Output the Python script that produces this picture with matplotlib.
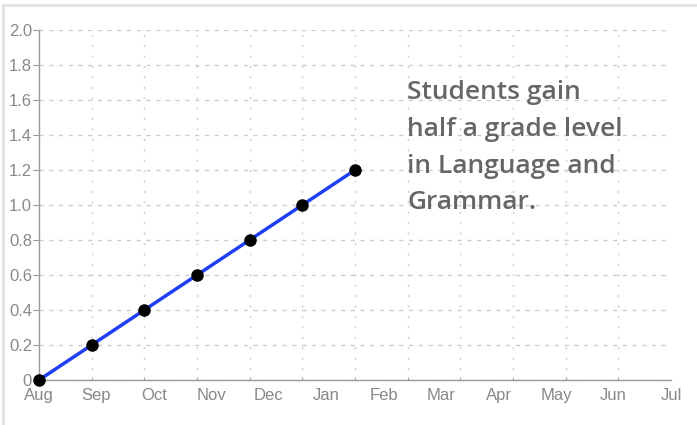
import matplotlib
matplotlib.use("Agg")
import matplotlib.pyplot as plt
import numpy as np
from matplotlib.patches import Rectangle

months = ["Aug", "Sep", "Oct", "Nov", "Dec", "Jan", "Feb", "Mar", "Apr", "May", "Jun", "Jul"]
gain = [0.0, 0.2, 0.4, 0.6, 0.8, 1.0, 1.2]
y_ticks = [0.0, 0.2, 0.4, 0.6, 0.8, 1.0, 1.2, 1.4, 1.6, 1.8, 2.0]
y_labels = ["0", "0.2", "0.4", "0.6", "0.8", "1.0", "1.2", "1.4", "1.6", "1.8", "2.0"]
note = "Students gain\nhalf a grade level\nin Language and\nGrammar."

fig = plt.figure(figsize=(6.97, 4.25), dpi=100)
fig.patch.set_facecolor("white")
# outer light frame
fig.add_artist(Rectangle((3/697, -0.05), 1.1, 1 - 5/425 + 0.05, transform=fig.transFigure,
                         fill=False, edgecolor="#e2e2e2", linewidth=2.0))

ax = fig.add_axes([39/697, 1 - 380/425, (671 - 39)/697, 350/425])
n_steps = 12
ax.set_xlim(0, n_steps)
ax.set_ylim(0, 2.0)

ax.set_xticks(np.arange(0, n_steps + 1), minor=True)
ax.set_xticks(np.linspace(0, n_steps, len(months)))
ax.set_xticklabels(months)
ax.set_yticks(y_ticks)
ax.set_yticklabels(y_labels)
ax.grid(True, which="minor", axis="x", color="#cccccc", linestyle=(0, (1.5, 6)), linewidth=1)
ax.grid(True, which="major", axis="y", color="#cccccc", linestyle=(0, (3, 4)), linewidth=1)
ax.grid(False, which="major", axis="x")

for s in ["top", "right"]:
    ax.spines[s].set_visible(False)
for s in ["left", "bottom"]:
    ax.spines[s].set_color("#999999")
    ax.spines[s].set_linewidth(1)

ax.tick_params(axis="y", which="major", length=4, color="#999999", labelcolor="#888888",
               labelsize=12, pad=1)
ax.tick_params(axis="x", which="major", length=0, labelcolor="#888888", labelsize=12, pad=6)
ax.tick_params(axis="x", which="minor", length=2, color="#999999", direction="in")
for lab in ax.get_xticklabels() + ax.get_yticklabels():
    lab.set_fontfamily("Liberation Sans")

x = np.arange(len(gain))
ax.plot(x, gain, color="#1f3ff5", linewidth=2.5, marker="o", markersize=8,
        markerfacecolor="black", markeredgecolor="black", clip_on=False, zorder=5)

fig.text(407/697, 1 - 80/425, note, family="Open Sans", fontweight="semibold",
         fontsize=19, color="#666666", va="top", ha="left", linespacing=1.62)

fig.savefig("out.png", dpi=100)
